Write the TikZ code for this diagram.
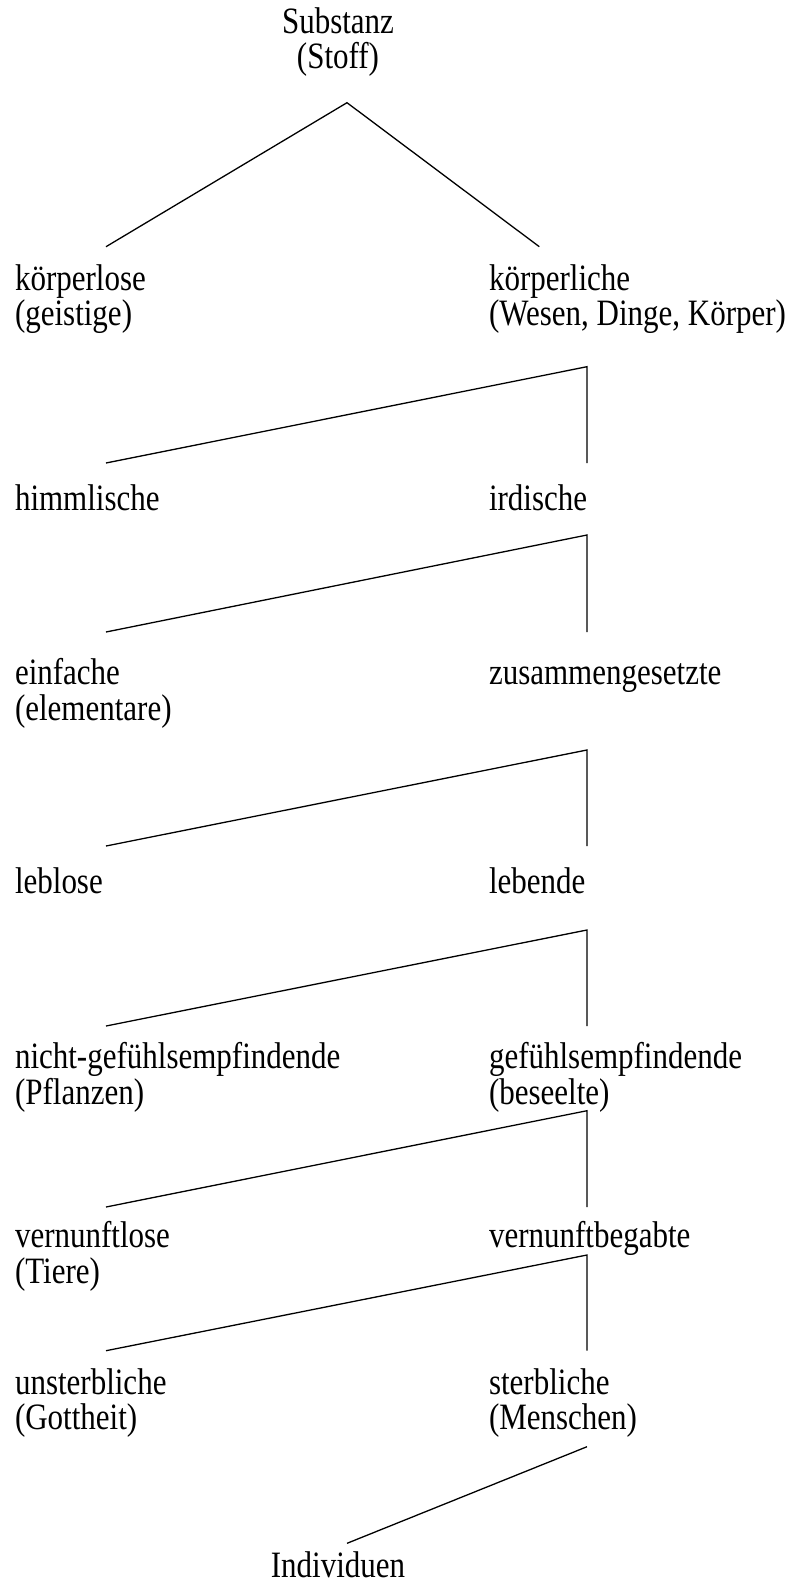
\documentclass[tikz,border=0pt]{standalone}
\usepackage{graphicx}
\usepackage{fontspec}
\setmainfont{Liberation Serif}
\newcommand\TT[1]{\scalebox{1}[1.2]{#1}}
\tikzset{
  lbl/.style={inner sep=0pt, outer sep=0pt, anchor=base west, font=\fontsize{31}{33}\selectfont},
  clbl/.style={lbl, anchor=base},
  conn/.style={line width=1.3pt, line join=miter}
}
\begin{document}
\begin{tikzpicture}[x=1pt,y=-1pt]
\useasboundingbox (0,0) rectangle (804,1585);
% texts
\node[clbl] (sub) at (338,33) {\TT{Substanz}};
\node[clbl] (sub2) at (338,68) {\TT{(Stoff)}};
\node[lbl] (kl) at (15,290) {\TT{körperlose}};
\node[lbl] (kl2) at (15,325) {\TT{(geistige)}};
\node[lbl] (kk) at (489,290) {\TT{körperliche}};
\node[lbl] (kk2) at (489,325) {\TT{(Wesen, Dinge, Körper)}};
\node[lbl] (hi) at (15,510) {\TT{himmlische}};
\node[lbl] (ir) at (489,510) {\TT{irdische}};
\node[lbl] (ei) at (15,684) {\TT{einfache}};
\node[lbl] (ei2) at (15,720) {\TT{(elementare)}};
\node[lbl] (zu) at (489,684) {\TT{zusammengesetzte}};
\node[lbl] (lo) at (15,893) {\TT{leblose}};
\node[lbl] (le) at (489,893) {\TT{lebende}};
\node[lbl] (ng) at (15,1068) {\TT{nicht-gefühlsempfindende}};
\node[lbl] (ng2) at (15,1104) {\TT{(Pflanzen)}};
\node[lbl] (gf) at (489,1068) {\TT{gefühlsempfindende}};
\node[lbl] (gf2) at (489,1104) {\TT{(beseelte)}};
\node[lbl] (vl) at (15,1247) {\TT{vernunftlose}};
\node[lbl] (vl2) at (15,1283) {\TT{(Tiere)}};
\node[lbl] (vb) at (489,1247) {\TT{vernunftbegabte}};
\node[lbl] (us) at (15,1394) {\TT{unsterbliche}};
\node[lbl] (us2) at (15,1429) {\TT{(Gottheit)}};
\node[lbl] (st) at (489,1394) {\TT{sterbliche}};
\node[lbl] (st2) at (489,1429) {\TT{(Menschen)}};
\node[clbl] (ind) at (338,1577) {\TT{Individuen}};
% connector points
\coordinate (a0) at (347,102.7);
\coordinate (a0l) at (106,246.7);
\coordinate (a0r) at (539.3,246.7);
\coordinate (t1) at (587,366.7); \coordinate (l1) at (106,463); \coordinate (b1) at (587,463);
\coordinate (t2) at (587,535);   \coordinate (l2) at (106,632); \coordinate (b2) at (587,632);
\coordinate (t3) at (587,750);   \coordinate (l3) at (106,846); \coordinate (b3) at (587,846);
\coordinate (t4) at (587,930);   \coordinate (l4) at (106,1026); \coordinate (b4) at (587,1026);
\coordinate (t5) at (587,1110.7); \coordinate (l5) at (106,1207); \coordinate (b5) at (587,1207);
\coordinate (t6) at (587,1255);  \coordinate (l6) at (106,1350.7); \coordinate (b6) at (587,1350.7);
\coordinate (m7) at (587,1446.7); \coordinate (i7) at (347,1543.3);
% connectors
\draw[conn] (a0l) -- (a0) -- (a0r);
\draw[conn] (l1) -- (t1) -- (b1);
\draw[conn] (l2) -- (t2) -- (b2);
\draw[conn] (l3) -- (t3) -- (b3);
\draw[conn] (l4) -- (t4) -- (b4);
\draw[conn] (l5) -- (t5) -- (b5);
\draw[conn] (l6) -- (t6) -- (b6);
\draw[conn] (m7) -- (i7);
\end{tikzpicture}
\end{document}
